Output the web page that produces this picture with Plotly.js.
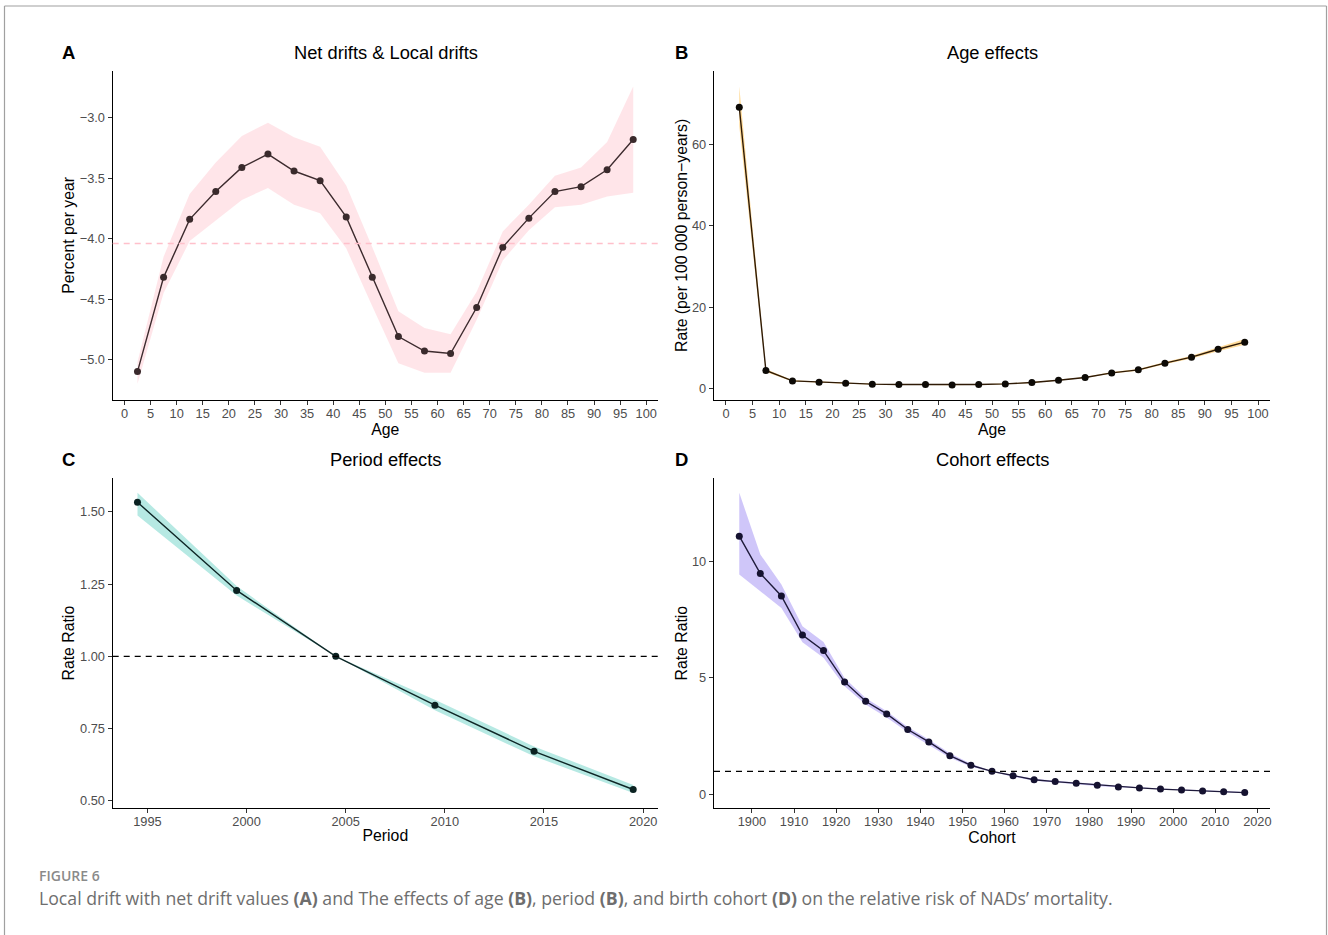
<!DOCTYPE html>
<html>
<head>
<meta charset="utf-8">
<script src="https://cdn.plot.ly/plotly-3.0.1.min.js"></script>
<style>
  html, body { margin: 0; padding: 0; background: #ffffff; overflow: hidden; }
  #chart { width: 1328px; height: 935px; }
</style>
</head>
<body>
<div id="chart"></div>
<script>
// ---------------- DATA ----------------
// Panel A: local drifts by age group (mid-point), with 95% CI, and net drift
const ageMid = [2.5, 7.5, 12.5, 17.5, 22.5, 27.5, 32.5, 37.5, 42.5, 47.5, 52.5, 57.5, 62.5, 67.5, 72.5, 77.5, 82.5, 87.5, 92.5, 97.5];
const localDrift   = [-5.10, -4.32, -3.84, -3.61, -3.41, -3.30, -3.44, -3.52, -3.82, -4.32, -4.81, -4.93, -4.95, -4.57, -4.07, -3.83, -3.61, -3.57, -3.43, -3.18];
const localDriftHi = [-5.02, -4.15, -3.63, -3.37, -3.15, -3.04, -3.16, -3.24, -3.56, -4.07, -4.60, -4.74, -4.79, -4.44, -3.94, -3.72, -3.48, -3.41, -3.20, -2.74];
const localDriftLo = [-5.20, -4.45, -4.02, -3.85, -3.68, -3.58, -3.72, -3.79, -4.08, -4.56, -5.03, -5.11, -5.11, -4.67, -4.18, -3.93, -3.74, -3.72, -3.65, -3.62];
const netDrift = -4.04;

// Panel B: age effects (rate per 100 000 person-years)
const ageRate   = [69.2, 4.36, 1.80, 1.50, 1.23, 1.00, 0.90, 0.90, 0.82, 0.90, 1.07, 1.40, 1.97, 2.63, 3.78, 4.52, 6.17, 7.65, 9.60, 11.35];
const ageRateHi = [74.4, 4.75, 1.95, 1.62, 1.34, 1.10, 0.99, 0.99, 0.90, 0.98, 1.16, 1.51, 2.10, 2.78, 3.97, 4.75, 6.45, 8.00, 10.10, 12.10];
const ageRateLo = [64.5, 4.00, 1.66, 1.39, 1.13, 0.91, 0.82, 0.82, 0.75, 0.83, 0.99, 1.30, 1.85, 2.49, 3.60, 4.30, 5.90, 7.30, 9.10, 10.70];

// Panel C: period effects (rate ratio)
const period   = [1994.5, 1999.5, 2004.5, 2009.5, 2014.5, 2019.5];
const periodRR = [1.533, 1.228, 1.000, 0.831, 0.671, 0.539];
const periodHi = [1.566, 1.243, 1.000, 0.850, 0.688, 0.555];
const periodLo = [1.487, 1.210, 1.000, 0.813, 0.654, 0.527];

// Panel D: cohort effects (rate ratio)
const cohort   = [1897, 1902, 1907, 1912, 1917, 1922, 1927, 1932, 1937, 1942, 1947, 1952, 1957, 1962, 1967, 1972, 1977, 1982, 1987, 1992, 1997, 2002, 2007, 2012, 2017];
const cohortRR = [11.07, 9.47, 8.51, 6.84, 6.17, 4.83, 4.00, 3.46, 2.79, 2.26, 1.67, 1.26, 1.00, 0.81, 0.64, 0.56, 0.49, 0.40, 0.33, 0.29, 0.24, 0.20, 0.16, 0.13, 0.09];
const cohortHi = [12.93, 10.29, 9.00, 7.21, 6.54, 5.00, 4.14, 3.57, 2.90, 2.36, 1.77, 1.33, 1.00, 0.85, 0.68, 0.60, 0.53, 0.44, 0.36, 0.32, 0.27, 0.23, 0.19, 0.16, 0.12];
const cohortLo = [9.43, 8.71, 8.00, 6.53, 5.86, 4.64, 3.86, 3.31, 2.67, 2.14, 1.58, 1.20, 1.00, 0.77, 0.60, 0.52, 0.45, 0.36, 0.30, 0.26, 0.21, 0.17, 0.13, 0.10, 0.06];

const refRR = 1;

// Text
const panelTitles = ["Net drifts & Local drifts", "Age effects", "Period effects", "Cohort effects"];
const panelLetters = ["A", "B", "C", "D"];
const figLabel = "FIGURE 6";
const captionText = "Local drift with net drift values <b>(A)</b> and The effects of age <b>(B)</b>, period <b>(B)</b>, and birth cohort <b>(D)</b> on the relative risk of NADs\u2019 mortality.";

// ---------------- HELPERS ----------------
const W = 1328, H = 935;
const px = v => v / W;
const py = v => 1 - v / H;

function ribbon(x, lo, hi, xa, ya, color) {
  return {
    x: x.concat(x.slice().reverse()),
    y: hi.concat(lo.slice().reverse()),
    xaxis: xa, yaxis: ya,
    type: 'scatter', mode: 'lines',
    fill: 'toself', fillcolor: color,
    line: { width: 0, color: 'rgba(0,0,0,0)' },
    hoverinfo: 'skip', showlegend: false
  };
}
function series(x, y, xa, ya, lineColor, markerColor) {
  return {
    x: x, y: y, xaxis: xa, yaxis: ya,
    type: 'scatter', mode: 'lines+markers',
    line: { color: lineColor, width: 1.4 },
    marker: { color: markerColor, size: 7 },
    showlegend: false
  };
}

const traces = [
  ribbon(ageMid, localDriftLo, localDriftHi, 'x', 'y', 'rgba(255,192,203,0.42)'),
  series(ageMid, localDrift, 'x', 'y', '#3d2b2e', '#3a2a2c'),
  ribbon(ageMid, ageRateLo, ageRateHi, 'x2', 'y2', 'rgba(255,165,0,0.40)'),
  series(ageMid, ageRate, 'x2', 'y2', '#2e1a06', '#0d0a06'),
  ribbon(period, periodLo, periodHi, 'x3', 'y3', 'rgba(64,196,182,0.38)'),
  series(period, periodRR, 'x3', 'y3', '#0e2626', '#0b2222'),
  ribbon(cohort, cohortLo, cohortHi, 'x4', 'y4', 'rgba(140,120,240,0.42)'),
  series(cohort, cohortRR, 'x4', 'y4', '#1e1a3a', '#151230')
];

const FAM = 'Liberation Sans, Arial, sans-serif';
const tickFont = { family: FAM, size: 12.8, color: '#4d4d4d' };
const titleFont = { family: FAM, size: 15.8, color: '#000000' };

function xax(domain, range, dtick, tick0, title, anchor) {
  return {
    domain: domain, range: range, anchor: anchor,
    tickmode: 'linear', tick0: tick0, dtick: dtick,
    showline: true, linecolor: '#000000', linewidth: 1.2,
    ticks: 'outside', ticklen: 4, tickcolor: '#333333', tickwidth: 1,
    ticklabelstandoff: -3,
    showgrid: false, zeroline: false, tickfont: tickFont,
    title: { text: title, font: titleFont, standoff: 2 },
    automargin: false, fixedrange: true
  };
}
function yax(domain, range, dtick, tick0, fmt, title, anchor, standoff) {
  return {
    domain: domain, range: range, anchor: anchor,
    tickmode: 'linear', tick0: tick0, dtick: dtick, tickformat: fmt,
    showline: true, linecolor: '#000000', linewidth: 1.2,
    ticks: 'outside', ticklen: 4, tickcolor: '#333333', tickwidth: 1,
    showgrid: false, zeroline: false, tickfont: tickFont,
    title: { text: title, font: titleFont, standoff: standoff },
    automargin: false, fixedrange: true
  };
}

const colL = [px(112.7), px(658)];
const colR = [px(714), px(1270)];
const rowT = [py(400), py(70.7)];
const rowB = [py(808), py(478.3)];

const layout = {
  width: W, height: H,
  margin: { l: 0, r: 0, t: 0, b: 0 },
  paper_bgcolor: '#ffffff', plot_bgcolor: '#ffffff',
  showlegend: false,
  font: { family: FAM },
  xaxis:  xax(colL, [-2.25, 102.25], 5, 0, 'Age', 'y'),
  yaxis:  yax(rowT, [-5.335, -2.61], 0.5, -5, '.1f', 'Percent per year', 'x', 1),
  xaxis2: xax(colR, [-2.25, 102.25], 5, 0, 'Age', 'y2'),
  yaxis2: yax(rowT, [-2.9, 78.2], 20, 0, 'd', 'Rate (per 100 000 person\u2212years)', 'x2', 0),
  xaxis3: xax(colL, [1993.25, 2020.75], 5, 1995, 'Period', 'y3'),
  yaxis3: yax(rowB, [0.475, 1.616], 0.25, 0.5, '.2f', 'Rate Ratio', 'x3', 1),
  xaxis4: xax(colR, [1891, 2023], 10, 1900, 'Cohort', 'y4'),
  yaxis4: yax(rowB, [-0.57, 13.55], 5, 0, 'd', 'Rate Ratio', 'x4', 0),
  shapes: [
    { type: 'line', xref: 'x domain', yref: 'y', x0: 0, x1: 1, y0: netDrift, y1: netDrift,
      line: { color: '#ffc0cb', width: 1.5, dash: '6px,5px' } },
    { type: 'line', xref: 'x3 domain', yref: 'y3', x0: 0, x1: 1, y0: refRR, y1: refRR,
      line: { color: '#000000', width: 1.3, dash: '6px,5px' } },
    { type: 'line', xref: 'x4 domain', yref: 'y4', x0: 0, x1: 1, y0: refRR, y1: refRR,
      line: { color: '#000000', width: 1.3, dash: '6px,5px' } },
    // figure frame
    { type: 'line', xref: 'paper', yref: 'paper', x0: px(4.5), x1: px(1326.5), y0: py(6), y1: py(6),
      line: { color: '#a0a0a0', width: 1.2 } },
    { type: 'line', xref: 'paper', yref: 'paper', x0: px(4.5), x1: px(4.5), y0: py(6), y1: -0.02,
      line: { color: '#a0a0a0', width: 1.2 } },
    { type: 'line', xref: 'paper', yref: 'paper', x0: px(1326.5), x1: px(1326.5), y0: py(6), y1: -0.02,
      line: { color: '#a0a0a0', width: 1.2 } }
  ],
  annotations: []
};

const titlePos = [[385.5, 52], [992, 52], [385.5, 460], [992, 460]];
const letterPos = [[68, 52], [681, 52], [68, 460], [681, 460]];
for (let i = 0; i < 4; i++) {
  layout.annotations.push({
    xref: 'paper', yref: 'paper', x: px(titlePos[i][0]), y: py(titlePos[i][1]),
    xanchor: 'center', yanchor: 'middle', showarrow: false,
    text: panelTitles[i],
    font: { family: FAM, size: 18.3, color: '#000000' }
  });
  layout.annotations.push({
    xref: 'paper', yref: 'paper', x: px(letterPos[i][0]), y: py(letterPos[i][1]),
    xanchor: 'center', yanchor: 'middle', showarrow: false,
    text: '<b>' + panelLetters[i] + '</b>',
    font: { family: FAM, size: 18.5, color: '#000000' }
  });
}
layout.annotations.push({
  xref: 'paper', yref: 'paper', x: px(37), y: py(875), xanchor: 'left', yanchor: 'middle',
  showarrow: false, text: figLabel,
  font: { family: 'Open Sans, sans-serif', size: 14, color: '#8a8a8a', weight: 600 }
});
layout.annotations.push({
  xref: 'paper', yref: 'paper', x: px(37), y: py(898), xanchor: 'left', yanchor: 'middle',
  showarrow: false, text: captionText,
  font: { family: 'Open Sans, sans-serif', size: 17.7, color: '#6e6e6e' }
});

Plotly.newPlot('chart', traces, layout, { displayModeBar: false, staticPlot: true });
</script>
</body>
</html>
